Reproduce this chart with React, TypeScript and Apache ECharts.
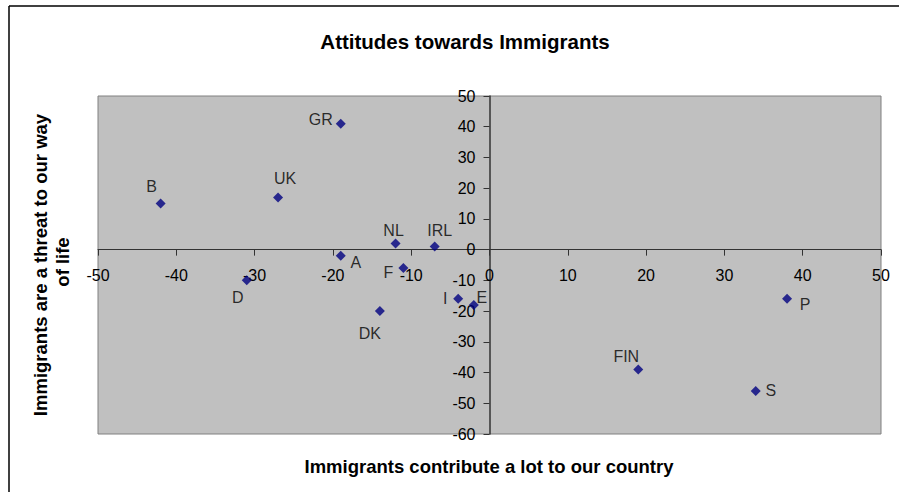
import React, { useEffect, useRef } from "react";
import * as echarts from "echarts";

const countries = ["B", "UK", "GR", "NL", "IRL", "A", "F", "D", "DK", "I", "E", "P", "FIN", "S"];
const contribute = [-42, -27, -19, -12, -7, -19, -11, -31, -14, -4, -2, 38, 19, 34];
const threat = [15, 17, 41, 2, 1, -2, -6, -10, -20, -16, -18, -16, -39, -46];
const xTicks = { min: -50, max: 50, interval: 10 };
const yTicks = { min: -60, max: 50, interval: 10 };

const titleText = "Attitudes towards Immigrants";
const xName = "Immigrants contribute a lot to our country";
const yName1 = "Immigrants are a threat to our way";
const yName2 = "of life";

const labelOffsets: Record<string, [number, number]> = {
  B: [-9, -17],
  UK: [7, -19],
  GR: [-20, -4],
  NL: [-2, -13],
  IRL: [5, -16],
  A: [15, 7],
  F: [-15, 4],
  D: [-9, 17],
  DK: [-10, 22],
  I: [-13, 0],
  E: [8, -7],
  P: [18, 6],
  FIN: [-12, -13],
  S: [15, 0],
};

const FONT = "'Liberation Sans', Arial, sans-serif";
const W = 899;
const H = 492;
const GRID = { left: 98, top: 96, right: 18, bottom: 58 };

export default function App() {
  const ref = useRef<HTMLDivElement>(null);
  useEffect(() => {
    if (!ref.current) return;
    const chart = echarts.init(ref.current, null, { renderer: "svg" });
    const gw = W - GRID.left - GRID.right;
    const gh = H - GRID.top - GRID.bottom;
    // move axes so that they cross at the zero point
    const xAxisOffset = -gh * ((0 - yTicks.min) / (yTicks.max - yTicks.min));
    const yAxisOffset = -gw * ((0 - xTicks.min) / (xTicks.max - xTicks.min));
    const data = countries.map((c, i) => ({
      name: c,
      value: [contribute[i], threat[i]],
      label: {
        show: true,
        position: "inside",
        offset: labelOffsets[c],
        formatter: c,
      },
    }));
    const nameStyle = {
      fontFamily: FONT,
      fontSize: 18.5,
      fontWeight: "bold",
      fill: "#000",
      align: "center",
      verticalAlign: "middle",
    };
    chart.setOption({
      animation: false,
      backgroundColor: "#ffffff",
      textStyle: { fontFamily: FONT },
      title: {
        text: titleText,
        left: 460,
        textAlign: "center",
        top: 26,
        textStyle: { fontFamily: FONT, fontSize: 20.5, fontWeight: "bold", color: "#000" },
      },
      grid: {
        ...GRID,
        show: true,
        backgroundColor: "#c0c0c0",
        borderColor: "#808080",
        borderWidth: 1,
      },
      xAxis: {
        type: "value",
        position: "bottom",
        offset: xAxisOffset,
        min: xTicks.min,
        max: xTicks.max,
        interval: xTicks.interval,
        axisLine: { show: true, onZero: false, lineStyle: { color: "#333", width: 1 } },
        axisTick: { show: true, inside: false, length: 6, lineStyle: { color: "#333" } },
        axisLabel: { fontFamily: FONT, fontSize: 16, color: "#000", margin: 18 },
        splitLine: { show: false },
      },
      yAxis: {
        type: "value",
        position: "left",
        offset: yAxisOffset,
        min: yTicks.min,
        max: yTicks.max,
        interval: yTicks.interval,
        axisLine: { show: true, onZero: false, lineStyle: { color: "#333", width: 1.5 } },
        axisTick: { show: true, inside: false, length: 6, lineStyle: { color: "#333" } },
        axisLabel: { fontFamily: FONT, fontSize: 16, color: "#000", margin: 14 },
        splitLine: { show: false },
      },
      graphic: [
        {
          type: "line",
          shape: { x1: 9, y1: 6, x2: 899, y2: 6 },
          style: { stroke: "#000", lineWidth: 1.5 },
        },
        {
          type: "line",
          shape: { x1: 9, y1: 6, x2: 9, y2: 492 },
          style: { stroke: "#000", lineWidth: 1.5 },
        },
        {
          type: "text",
          x: 489,
          y: 466,
          style: { ...nameStyle, text: xName },
        },
        {
          type: "text",
          x: 40,
          y: 265,
          rotation: Math.PI / 2,
          style: { ...nameStyle, text: yName1 },
        },
        {
          type: "text",
          x: 62,
          y: 262,
          rotation: Math.PI / 2,
          style: { ...nameStyle, text: yName2 },
        },
      ],
      series: [
        {
          type: "scatter",
          symbol: "diamond",
          symbolSize: 10,
          itemStyle: { color: "#000080" },
          label: { fontFamily: FONT, fontSize: 16, color: "#000" },
          data,
        },
      ],
    });
    return () => chart.dispose();
  }, []);
  return (
    <div
      ref={ref}
      style={{ position: "fixed", left: 0, top: 0, width: W, height: H }}
    />
  );
}
